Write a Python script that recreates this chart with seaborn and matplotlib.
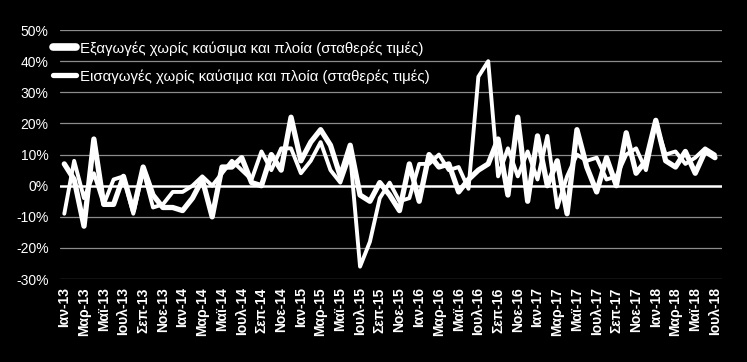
import matplotlib
matplotlib.use("Agg")
import matplotlib.pyplot as plt
import numpy as np
import pandas as pd
import seaborn as sns

# Monthly data, Jan-2013 .. Jul-2018 (% y/y)
months_gr = ["Ιαν", "Φεβ", "Μαρ", "Απρ", "Μαϊ", "Ιουν",
             "Ιουλ", "Αυγ", "Σεπ", "Οκτ", "Νοε", "Δεκ"]
years = [13, 14, 15, 16, 17, 18]

exports = [7, 2, -13, 15, -6, -6, 3, -8, 6, -3, -7, -7,
           -8, -4, 2, -10, 6, 6, 9, 1, 0, 10, 5, 22,
           8, 14, 18, 13, 3, 13, -3, -5, 1, -3, -8, 7,
           -5, 10, 6, 7, -2, 2, 5, 7, 15, -3, 22, -5,
           16, 0, 8, -9, 18, 6, -2, 9, 0, 17, 4, 8,
           21, 8, 6, 11, 4, 11, 9]
imports = [-9, 8, -4, 4, -6, 2, 3, -9, 5, -7, -6, -2,
           -2, 0, 3, 0, 4, 8, 5, 2, 11, 5, 12, 12,
           4, 8, 14, 5, 1, 10, -26, -18, -4, 1, -5, -4,
           7, 7, 10, 5, 6, -1, 35, 40, 3, 12, 3, 11,
           2, 16, -7, 3, 10, 8, 9, 2, 3, 10, 12, 5,
           20, 10, 11, 7, 9, 12, 10]

labels = [f"{m}-{y}" for y in years for m in months_gr][:len(exports)]

df = pd.DataFrame({"idx": np.arange(len(exports)),
                   "exports": np.array(exports) / 100.0,
                   "imports": np.array(imports) / 100.0})

sns.set_theme(style="dark", rc={"axes.facecolor": "black",
                                "figure.facecolor": "black"})
plt.rcParams["font.family"] = ["Liberation Sans", "DejaVu Sans"]

fig, ax = plt.subplots(figsize=(7.47, 3.62), dpi=100)
fig.subplots_adjust(left=0.080, right=0.967, top=0.917, bottom=0.229)

for y in np.arange(-0.3, 0.51, 0.1):
    if abs(y) < 1e-9:
        continue
    ax.axhline(y, color="#8c8c8c", lw=0.9, zorder=1)
ax.axhline(0, color="white", lw=1.8, zorder=1)

sns.lineplot(data=df, x="idx", y="exports", ax=ax, color="white", lw=3.8,
             label="Εξαγωγές χωρίς καύσιμα και πλοία (σταθερές τιμές)",
             solid_capstyle="round", solid_joinstyle="round", zorder=3)
sns.lineplot(data=df, x="idx", y="imports", ax=ax, color="white", lw=2.8,
             label="Εισαγωγές χωρίς καύσιμα και πλοία (σταθερές τιμές)",
             solid_capstyle="round", solid_joinstyle="round", zorder=4)

ax.set_xlim(-0.46, 66.75)
ax.set_ylim(-0.3, 0.5)
ax.set_yticks(np.arange(-0.3, 0.51, 0.1))
ax.set_yticklabels([f"{v}%" for v in range(-30, 51, 10)],
                   color="white", fontsize=10)
ax.set_xticks(df["idx"][::2])
ax.set_xticklabels(labels[::2], rotation=90, color="white",
                   fontsize=10, fontweight="bold")
ax.tick_params(axis="y", length=0, pad=8)
ax.tick_params(axis="x", length=0, pad=6)
ax.set_xlabel("")
ax.set_ylabel("")
ax.grid(False)
for s in ax.spines.values():
    s.set_visible(False)

leg = ax.legend(loc="upper left", bbox_to_anchor=(-0.031, 1.01),
                frameon=False, handlelength=1.55, handletextpad=0.25,
                labelspacing=0.9, prop={"size": 10.8})
for t in leg.get_texts():
    t.set_color("white")
leg.get_lines()[0].set_linewidth(5.5)
leg.get_lines()[1].set_linewidth(3.8)

fig.savefig("out.png", dpi=100, facecolor="black")
